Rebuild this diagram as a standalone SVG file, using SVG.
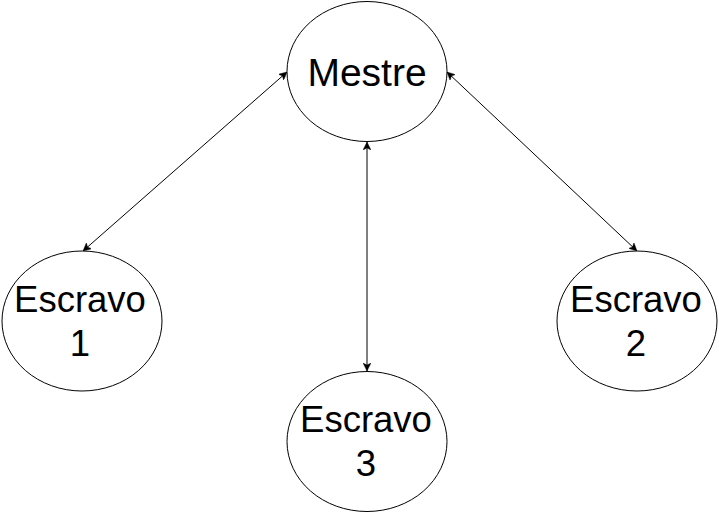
<svg xmlns="http://www.w3.org/2000/svg" width="719" height="513" viewBox="0 0 719 513">
<defs>
<marker id="arr" viewBox="0 0 10 10" refX="10" refY="5" markerWidth="8" markerHeight="8" markerUnits="userSpaceOnUse" orient="auto-start-reverse">
<path d="M0,0 L10,5 L0,10 L2.5,5 Z" fill="#000" stroke="#000" stroke-width="0.5"/>
</marker>
<style>
.node{fill:#fff;stroke:#000;stroke-width:1}
.edge{fill:none;stroke:#000;stroke-width:1;marker-start:url(#arr);marker-end:url(#arr)}
.lbl{font-family:"Liberation Sans",Arial,sans-serif;fill:#000;text-anchor:middle}
.big{font-size:39px}
.med{font-size:36.5px}
</style>
</defs>
<rect width="719" height="513" fill="#fff"/>
<g id="connectors">
<line class="edge" x1="287" y1="72" x2="83" y2="251"/>
<line class="edge" x1="447" y1="72" x2="637" y2="251"/>
<line class="edge" x1="367" y1="142" x2="367" y2="371"/>
</g>
<g id="mestre">
<ellipse class="node" cx="367" cy="71.5" rx="80" ry="70"/>
<text class="lbl big" x="367" y="85.5">Mestre</text>
</g>
<g id="escravo1">
<ellipse class="node" cx="82" cy="321" rx="80" ry="70"/>
<text class="lbl med" x="80" y="311.5">Escravo</text>
<text class="lbl med" x="80" y="356">1</text>
</g>
<g id="escravo2">
<ellipse class="node" cx="637" cy="321" rx="80" ry="70"/>
<text class="lbl med" x="636" y="311.5">Escravo</text>
<text class="lbl med" x="636" y="356">2</text>
</g>
<g id="escravo3">
<ellipse class="node" cx="367" cy="441.5" rx="80" ry="70"/>
<text class="lbl med" x="366" y="431.5">Escravo</text>
<text class="lbl med" x="366" y="476">3</text>
</g>
</svg>
